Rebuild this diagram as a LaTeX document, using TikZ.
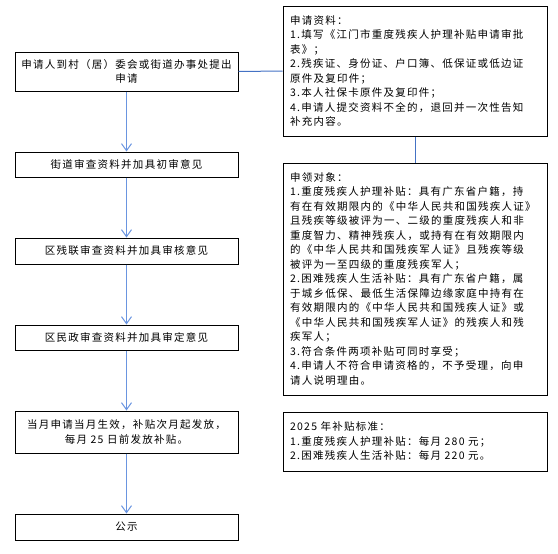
\documentclass[tikz,border=0pt]{standalone}
\usepackage{fontspec}
\setmainfont{Noto Sans CJK SC}[LetterSpace=12]
\usetikzlibrary{arrows.meta}
\definecolor{Ink}{HTML}{000000}
\definecolor{ArrowBlue}{HTML}{6A95E0}
\definecolor{LinkBlue}{HTML}{4472C4}
\tikzset{
  stepbox/.style={draw=Ink,line width=1pt,minimum width=223pt,align=center,inner sep=3pt,text=Ink,font=\fontsize{10.5}{14.5}\selectfont},
  notebox/.style={draw=Ink,line width=1pt,text width=250pt,align=left,inner xsep=7pt,inner ysep=3pt,text=Ink,font=\fontsize{10.5}{14.5}\selectfont},
  arrow/.style={-{Straight Barb[length=7pt,width=10pt]},line width=1pt,draw=ArrowBlue},
  link/.style={line width=1pt,draw=LinkBlue}
}
\begin{document}
\begin{tikzpicture}[x=1pt,y=-1pt]
  \useasboundingbox (0,0) rectangle (558,554);
  % main flow
  \node[stepbox,minimum height=39pt] (apply) at (126.5,71.5) {申请人到村（居）委会或街道办事处提出\\申请};
  \node[stepbox,minimum height=25pt] (street) at (126.5,164.5) {街道审查资料并加具初审意见};
  \node[stepbox,minimum height=26pt] (dpf) at (126.5,251) {区残联审查资料并加具审核意见};
  \node[stepbox,minimum height=25pt] (civil) at (126.5,337.5) {区民政审查资料并加具审定意见};
  \node[stepbox,minimum height=42pt] (pay) at (126.5,432) {当月申请当月生效，补贴次月起发放，\\每月 25 日前发放补贴。};
  \node[stepbox,minimum height=26pt] (notice) at (126.5,527) {公示};
  \draw[arrow] (apply)--(street);
  \draw[arrow] (street)--(dpf);
  \draw[arrow] (dpf)--(civil);
  \draw[arrow] (civil)--(pay);
  \draw[arrow] (pay)--(notice);
  % side notes
  \node[notebox,minimum height=130pt] (material) at (415,71) {申请资料：\\1.填写《江门市重度残疾人护理补贴申请审批\\表》；\\2.残疾证、身份证、户口簿、低保证或低边证\\原件及复印件；\\3.本人社保卡原件及复印件；\\4.申请人提交资料不全的，退回并一次性告知\\补充内容。};
  \node[notebox,minimum height=232pt] (target) at (415,279) {申领对象：\\1.重度残疾人护理补贴：具有广东省户籍，持\\有在有效期限内的《中华人民共和国残疾人证》\\且残疾等级被评为一、二级的重度残疾人和非\\重度智力、精神残疾人，或持有在有效期限内\\的《中华人民共和国残疾军人证》且残疾等级\\被评为一至四级的重度残疾军人；\\2.困难残疾人生活补贴：具有广东省户籍，属\\于城乡低保、最低生活保障边缘家庭中持有在\\有效期限内的《中华人民共和国残疾人证》或\\《中华人民共和国残疾军人证》的残疾人和残\\疾军人；\\3.符合条件两项补贴可同时享受；\\4.申请人不符合申请资格的，不予受理，向申\\请人说明理由。};
  \node[notebox,minimum height=59pt] (standard) at (415,441.5) {2025 年补贴标准：\\1.重度残疾人护理补贴：每月 280 元；\\2.困难残疾人生活补贴：每月 220 元。};
  \draw[link] (apply.east)--(material.west);
  \draw[link] (material.south)--(target.north);
\end{tikzpicture}
\end{document}
